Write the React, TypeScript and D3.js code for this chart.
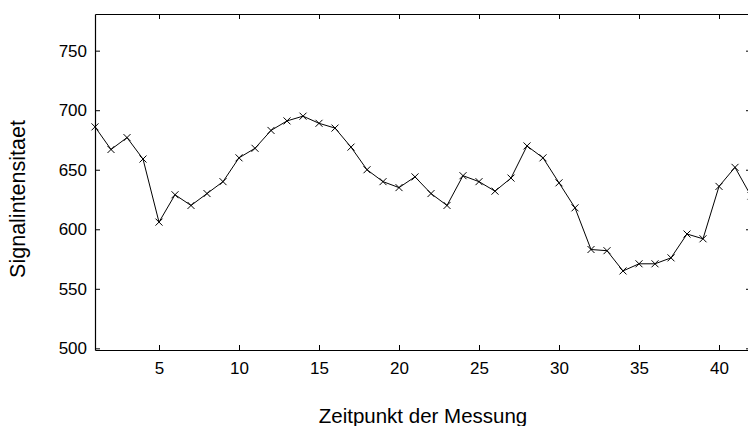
import React, { useRef, useEffect } from "react";
import * as d3 from "d3";

const zeitpunkte = d3.range(1, 43);
const signal = [
  686, 667, 677, 659, 606, 629, 620, 630, 640, 660,
  668, 683, 691, 695, 689, 685, 669, 650, 640, 635,
  644, 630, 620, 645, 640, 632, 643, 670, 660, 639,
  618, 583, 582, 565, 571, 571, 576, 596, 592, 636,
  652, 628,
];
const xTicks = [5, 10, 15, 20, 25, 30, 35, 40];
const yTicks = [500, 550, 600, 650, 700, 750];

const width = 748;
const height = 426;
const margin = { top: 14, right: -3, bottom: 76, left: 95 };

const App: React.FC = () => {
  const svgRef = useRef<SVGSVGElement | null>(null);

  useEffect(() => {
    if (!svgRef.current) return;
    const svg = d3.select(svgRef.current);
    svg.selectAll("*").remove();

    const innerWidth = width - margin.left - margin.right;
    const innerHeight = height - margin.top - margin.bottom;

    const x = d3.scaleLinear().domain([1, 42]).range([0, innerWidth]);
    const y = d3.scaleLinear().domain([498.6, 780.8]).range([innerHeight, 0]);

    const g = svg
      .append("g")
      .attr("transform", `translate(${margin.left},${margin.top})`);

    const font = "'Liberation Sans', Arial, Helvetica, sans-serif";
    const tickLen = 5;

    // box-style axes, ticks pointing inward on all four sides
    const styleAxis = (sel: d3.Selection<SVGGElement, unknown, null, undefined>) => {
      sel.select(".domain").attr("stroke", "#000").attr("stroke-width", 1.2);
      sel.selectAll(".tick line").attr("stroke", "#000");
      sel
        .selectAll(".tick text")
        .attr("fill", "#000")
        .style("font-family", font)
        .style("font-size", "17px");
    };

    g.append("g")
      .attr("transform", `translate(0,${innerHeight})`)
      .call(
        d3.axisBottom(x).tickValues(xTicks).tickSize(-tickLen).tickPadding(12).tickSizeOuter(0)
      )
      .call(styleAxis);

    g.append("g")
      .call(d3.axisTop(x).tickValues(xTicks).tickSize(-tickLen).tickFormat(() => "").tickSizeOuter(0))
      .call(styleAxis);

    g.append("g")
      .call(
        d3.axisLeft(y).tickValues(yTicks).tickSize(-tickLen).tickPadding(8).tickSizeOuter(0)
      )
      .call(styleAxis);

    g.append("g")
      .attr("transform", `translate(${innerWidth},0)`)
      .call(d3.axisRight(y).tickValues(yTicks).tickSize(-tickLen).tickFormat(() => "").tickSizeOuter(0))
      .call(styleAxis);

    const data = zeitpunkte.map((t, i) => ({ t, v: signal[i] }));

    const line = d3
      .line<{ t: number; v: number }>()
      .x((d) => x(d.t))
      .y((d) => y(d.v));

    g.append("path")
      .datum(data)
      .attr("fill", "none")
      .attr("stroke", "#000")
      .attr("stroke-width", 1)
      .attr("d", line);

    // x-shaped markers
    const s = 3.5;
    g.selectAll(".marker")
      .data(data)
      .enter()
      .append("path")
      .attr("class", "marker")
      .attr("fill", "none")
      .attr("stroke", "#000")
      .attr("stroke-width", 1)
      .attr(
        "d",
        (d) =>
          `M${x(d.t) - s},${y(d.v) - s}L${x(d.t) + s},${y(d.v) + s}M${x(d.t) - s},${y(d.v) + s}L${x(d.t) + s},${y(d.v) - s}`
      );

    // axis labels
    svg
      .append("text")
      .attr("x", 423)
      .attr("y", 423)
      .attr("text-anchor", "middle")
      .style("font-family", font)
      .style("font-size", "20.5px")
      .attr("fill", "#000")
      .text("Zeitpunkt der Messung");

    svg
      .append("text")
      .attr("transform", "translate(25,199) rotate(-90)")
      .attr("text-anchor", "middle")
      .style("font-family", font)
      .style("font-size", "21.5px")
      .attr("fill", "#000")
      .text("Signalintensitaet");
  }, []);

  return (
    <svg
      ref={svgRef}
      width={width}
      height={height}
      style={{ position: "absolute", left: 0, top: 0, background: "#fff" }}
    />
  );
};

export default App;
